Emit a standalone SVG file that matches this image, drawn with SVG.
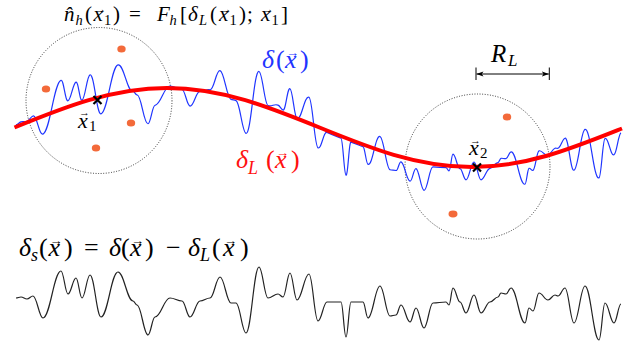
<svg xmlns="http://www.w3.org/2000/svg" width="638" height="345" viewBox="0 0 638 345">
<style>
.m{font-family:"Liberation Serif","DejaVu Serif",serif;}
.i{font-style:italic;}
.ar{font-style:normal;text-anchor:middle;}
.circ{fill:none;stroke:#222;stroke-width:0.9;stroke-dasharray:1 1.6;}
.blob{fill:#f36a3a;}
.cross{stroke:#000;stroke-width:2.2;stroke-linecap:butt;}
</style>
<defs>
<marker id="ah" viewBox="0 0 10 10" refX="10" refY="5" markerWidth="7" markerHeight="7" orient="auto-start-reverse" markerUnits="userSpaceOnUse">
<path d="M0,1.5 L10,5 L0,8.5 L2.5,5 Z" fill="#000"/>
</marker>
</defs>
<rect width="638" height="345" fill="#fff"/>

<g id="circle1"><circle class="circ" cx="99" cy="100.5" r="73"/></g>
<g id="circle2"><circle class="circ" cx="477.5" cy="166.5" r="72.5"/></g>

<g id="halos">
<ellipse class="blob" cx="121.5" cy="49" rx="4.2" ry="3.6"/>
<ellipse class="blob" cx="46" cy="89" rx="4.2" ry="3.6"/>
<ellipse class="blob" cx="131" cy="123" rx="4.2" ry="3.6"/>
<ellipse class="blob" cx="96" cy="148" rx="4.2" ry="3.6"/>
<ellipse class="blob" cx="507" cy="117" rx="4.2" ry="3.6"/>
<ellipse class="blob" cx="453" cy="214" rx="4.5" ry="3.4"/>
</g>

<g id="connectors">
<path id="delta" fill="none" stroke="#1f35ff" stroke-width="1.2" d="M16,124.9 C18,124.1 19,122.7 21,121.9 C23.4,120.9 24.6,122.4 27,121.4 C29.4,120.4 30.6,117 33,116 C37,114.4 39,135.7 43,134.1 C50.2,131.3 53.8,82.9 61,80.3 C63.8,79.3 65.2,101.8 68,100.8 C71.2,99.7 72.8,83.2 76,82.1 C78.4,81.3 79.6,101 82,100.2 C85.2,99.2 86.8,75.7 90,74.8 C94.4,73.5 96.6,114.9 101,113.8 C107.8,112.1 111.2,66.2 118,64.9 C124,63.7 127,92.2 133,91.4 C134.6,91.2 135.4,95.1 137,94.9 C141.4,94.4 143.6,124.1 148,123.75 C150.8,123.5 152.2,105.4 155,105.3 C161,105 164,85.9 170,86 C174.8,86.1 177.2,89.2 182,89.5 C185.2,89.7 186.8,105.8 190,106.1 C194,106.5 196,90.8 200,91.3 C204,91.8 206,89.1 210,89.8 C214,90.5 216,69.9 220,70.7 C224.4,71.6 226.6,98.2 231,99.3 C233,99.8 234,100.1 236,100.6 C240,101.7 242,132.2 246,133.4 C251.2,134.9 253.8,69.8 259,71.5 C262.6,72.7 264.4,104.2 268,105.5 C272,106.9 274,103.6 278,105.1 C280,105.8 281,109.2 283,110 C285.8,111.1 287.2,87.6 290,88.7 C292.8,89.8 294.2,117.3 297,118.4 C301.8,120.3 304.2,95.3 309,97.2 C312.6,98.7 314.4,146.4 318,147.9 C321.6,149.4 323.4,131 327,132.5 C332.6,134.8 335.4,136 341,138.2 C343,139 344,174.4 346,175.2 C348,176 349,141.3 351,142.1 C355.8,144 358.2,144.8 363,146.6 C365,147.3 366,163.7 368,164.4 C372.8,166.1 375.2,134.9 380,136.5 C384,137.8 386,168.5 390,169.7 C392.4,170.4 393.6,169.8 396,170.5 C398,171.1 399,161.4 401,161.9 C404.6,162.9 406.4,180.3 410,181.2 C412.4,181.8 413.6,168.1 416,168.6 C419.2,169.3 420.8,189.7 424,190.3 C427.6,191 429.4,166.3 433,166.85 C438.2,167.7 440.8,167 446,167.6 C447.2,167.7 447.8,170.8 449,170.9 C450.6,171.1 451.4,154.1 453,154.2 C455.8,154.4 457.2,168.6 460,168.7 C462.4,168.8 463.6,179.8 466,179.9 C469.2,180 470.8,162 474,162 C476.8,162 478.2,179.9 481,179.8 C484.6,179.7 486.4,168.6 490,168.3 C493.2,168.1 494.8,162.9 498,162.6 C499.2,162.5 499.8,158.4 501,158.3 C503,158.1 504,158.9 506,158.6 C508,158.3 509,152.1 511,151.8 C516.6,150.9 519.4,185.4 525,184.2 C526.6,183.9 527.4,168.7 529,168.3 C530.6,167.9 531.4,170.7 533,170.3 C535.4,169.7 536.6,151.4 539,150.8 C542.6,149.9 544.4,156.3 548,155.3 C550.8,154.5 552.2,149.1 555,148.2 C556.2,147.8 556.8,148.7 558,148.3 C560.8,147.4 562.2,139.1 565,138.2 C568.6,137 570.4,171.5 574,170.2 C578.4,168.7 580.6,131 585,129.4 C590.6,127.3 593.4,180.1 599,177.9 C601.4,177 602.6,139.5 605,138.5 C608.6,137.1 610.4,156.3 614,154.8 C616.8,153.7 618.2,134 621,132.9"/>
<path id="deltaL" fill="none" stroke="#ff0000" stroke-width="4" d="M14.5,127.5 C64.2,107.3 111.8,88 167,88 C222.2,88 269.8,107.3 319.5,127.5 C369.2,147.7 416.8,167 472,167 C527.2,167 573,148 622,128.5"/>
<path id="deltaS" fill="none" stroke="#222" stroke-width="1.2" d="M16,298 C18,298 19,297 21,297 C23.4,297 24.6,299 27,299 C29.4,299 30.6,296 33,296 C37,296 39,318 43,318 C50.2,318 53.8,271 61,271 C63.8,271 65.2,294 68,294 C71.2,294 72.8,278 76,278 C78.4,278 79.6,298 82,298 C85.2,298 86.8,275 90,275 C94.4,275 96.6,317 101,317 C107.8,317 111.2,272 118,272 C124,272 127,301 133,301 C134.6,301 135.4,305 137,305 C141.4,305 143.6,335 148,335 C150.8,335 152.2,317 155,317 C161,317 164,298 170,298 C174.8,298 177.2,301 182,301 C185.2,301 186.8,317 190,317 C194,317 196,301 200,301 C204,301 206,298 210,298 C214,298 216,277 220,277 C224.4,277 226.6,303 231,303 C233,303 234,303 236,303 C240,303 242,333 246,333 C251.2,333 253.8,267 259,267 C262.6,267 264.4,298 268,298 C272,298 274,294 278,294 C280,294 281,297 283,297 C285.8,297 287.2,273 290,273 C292.8,273 294.2,300 297,300 C301.8,300 304.2,274 309,274 C312.6,274 314.4,321 318,321 C321.6,321 323.4,302 327,302 C332.6,302 335.4,302 341,302 C343,302 344,337 346,337 C348,337 349,302 351,302 C355.8,302 358.2,302 363,302 C365,302 366,318 368,318 C372.8,318 375.2,286 380,286 C384,286 386,316 390,316 C392.4,316 393.6,315 396,315 C398,315 399,305 401,305 C404.6,305 406.4,322 410,322 C412.4,322 413.6,308 416,308 C419.2,308 420.8,328 424,328 C427.6,328 429.4,303 433,303 C438.2,303 440.8,302 446,302 C447.2,302 447.8,305 449,305 C450.6,305 451.4,288 453,288 C455.8,288 457.2,302 460,302 C462.4,302 463.6,313 466,313 C469.2,313 470.8,295 474,295 C476.8,295 478.2,313 481,313 C484.6,313 486.4,302 490,302 C493.2,302 494.8,297 498,297 C499.2,297 499.8,293 501,293 C503,293 504,294 506,294 C508,294 509,288 511,288 C516.6,288 519.4,323 525,323 C526.6,323 527.4,308 529,308 C530.6,308 531.4,311 533,311 C535.4,311 536.6,293 539,293 C542.6,293 544.4,300 548,300 C550.8,300 552.2,295 555,295 C556.2,295 556.8,296 558,296 C560.8,296 562.2,288 565,288 C568.6,288 570.4,323 574,323 C578.4,323 580.6,286 585,286 C590.6,286 593.4,340 599,340 C601.4,340 602.6,303 605,303 C608.6,303 610.4,323 614,323 C616.8,323 618.2,304 621,304"/>
<g id="RLarrow">
<line x1="476" y1="67.5" x2="476" y2="80" stroke="#000" stroke-width="1"/>
<line x1="549.3" y1="67.5" x2="549.3" y2="80" stroke="#000" stroke-width="1"/>
<line x1="476.5" y1="74" x2="548.8" y2="74" stroke="#000" stroke-width="1" marker-start="url(#ah)" marker-end="url(#ah)"/>
</g>
</g>

<g id="x1marker"><path class="cross" d="M93.5,96 L101.5,104 M101.5,96 L93.5,104"/></g>
<g id="x2marker"><path class="cross" d="M473,163.5 L481,171.5 M481,163.5 L473,171.5"/></g>

<g id="labels" class="m">
<text id="nh" font-size="21"><tspan class="i" x="64" y="21">n&#x302;</tspan><tspan class="i" font-size="14.5" x="75.5" y="24.5">h</tspan><tspan x="85" y="21">(</tspan><tspan class="i" x="93.5" y="21">x</tspan><tspan class="ar" font-size="12" x="100.5" y="12.5">→</tspan><tspan font-size="14.5" x="104" y="24.5">1</tspan><tspan x="113" y="21">)</tspan><tspan x="129" y="21">=</tspan><tspan class="i" x="157" y="21">F</tspan><tspan class="i" font-size="14.5" x="169.5" y="24.5">h</tspan><tspan x="180" y="21">[</tspan><tspan class="i" x="188" y="21">δ</tspan><tspan class="i" font-size="14.5" x="199" y="24.5">L</tspan><tspan x="210" y="21">(</tspan><tspan class="i" x="219" y="21">x</tspan><tspan class="ar" font-size="12" x="226" y="12.5">→</tspan><tspan font-size="14.5" x="229.5" y="24.5">1</tspan><tspan x="239" y="21">)</tspan><tspan x="247" y="21">;</tspan><tspan class="i" x="261" y="21">x</tspan><tspan class="ar" font-size="12" x="268" y="12.5">→</tspan><tspan font-size="14.5" x="271.5" y="24.5">1</tspan><tspan x="281" y="21">]</tspan></text>
<text id="delta-lbl" font-size="26" fill="#1f35ff"><tspan class="i" x="262" y="68">δ</tspan><tspan x="276" y="68">(</tspan><tspan class="i" x="285" y="68">x</tspan><tspan class="ar" font-size="13" x="292.5" y="57">→</tspan><tspan x="300" y="68">)</tspan></text>
<text id="deltaL-lbl" font-size="26" fill="#ff1010"><tspan class="i" x="236" y="168">δ</tspan><tspan class="i" font-size="18" x="248" y="174">L</tspan><tspan x="266" y="168">(</tspan><tspan class="i" x="275" y="168">x</tspan><tspan class="ar" font-size="13" x="282.5" y="157">→</tspan><tspan x="291" y="168">)</tspan></text>
<text id="x1-lbl" font-size="22"><tspan class="i" x="78" y="128">x</tspan><tspan class="ar" font-size="11" x="84.5" y="116">→</tspan><tspan font-size="15" x="89" y="131">1</tspan></text>
<text id="x2-lbl" font-size="22"><tspan class="i" x="469" y="155">x</tspan><tspan class="ar" font-size="11" x="475.5" y="143.5">→</tspan><tspan font-size="15" x="480" y="158">2</tspan></text>
<text id="RL-lbl" font-size="25"><tspan class="i" x="491" y="62">R</tspan><tspan class="i" font-size="17" x="508" y="66">L</tspan></text>
<text id="deltas" font-size="26"><tspan class="i" x="19" y="256">δ</tspan><tspan class="i" font-size="18" x="31" y="261">s</tspan><tspan x="39" y="256">(</tspan><tspan class="i" x="48.5" y="256">x</tspan><tspan class="ar" font-size="13" x="56" y="245">→</tspan><tspan x="64" y="256">)</tspan><tspan x="84" y="256">=</tspan><tspan class="i" x="109" y="256">δ</tspan><tspan x="121" y="256">(</tspan><tspan class="i" x="130" y="256">x</tspan><tspan class="ar" font-size="13" x="137.5" y="245">→</tspan><tspan x="145" y="256">)</tspan><tspan x="166" y="256">−</tspan><tspan class="i" x="188" y="256">δ</tspan><tspan class="i" font-size="18" x="200" y="261">L</tspan><tspan x="212" y="256">(</tspan><tspan class="i" x="223" y="256">x</tspan><tspan class="ar" font-size="13" x="230.5" y="245">→</tspan><tspan x="240" y="256">)</tspan></text>
</g>
</svg>
